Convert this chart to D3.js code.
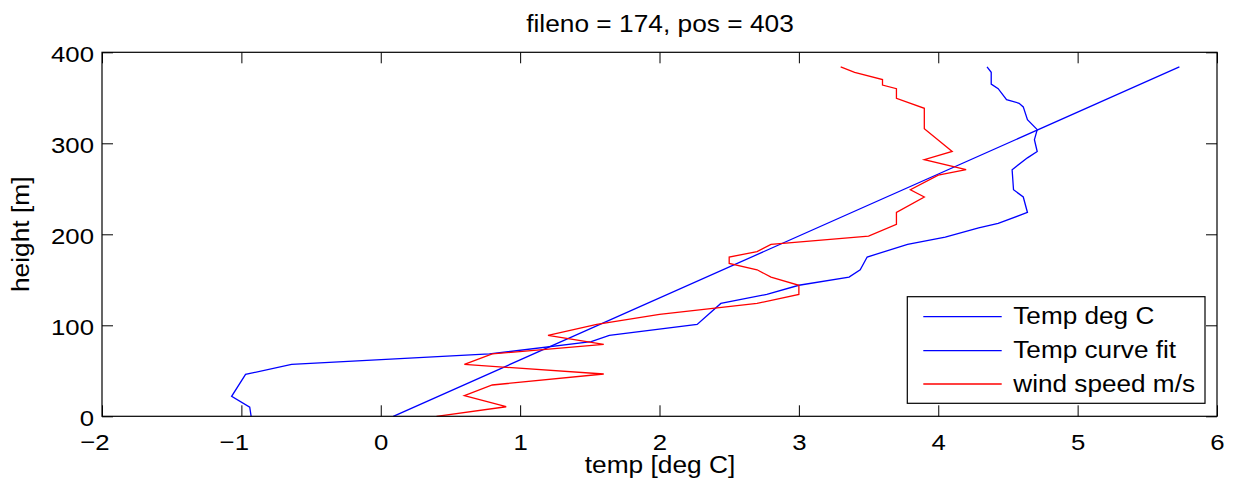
<!DOCTYPE html>
<html>
<head>
<meta charset="utf-8">
<script src="https://cdn.jsdelivr.net/npm/d3@7"></script>
<style>
  body { margin: 0; background: #fff; }
  svg text { font-family: "Liberation Sans", Arial, Helvetica, sans-serif; fill: #000; }
</style>
</head>
<body>
<svg id="chart" width="1234" height="486"></svg>
<script>
// values
const TEMP_HEIGHT = [0, 10, 22, 46, 57, 68.5, 82, 89, 101, 124, 134, 144, 153, 161, 175, 189, 197, 207, 212, 224,
    241, 249, 271, 284, 291, 304, 315, 326, 340, 344, 348, 360, 365, 378, 384];
const TEMP_VALUE = [-0.93, -0.94, -1.07, -0.97, -0.64, 0.78, 1.51, 1.64, 2.27, 2.44, 2.77, 3.00, 3.36, 3.44, 3.49, 3.78, 4.05, 4.29, 4.43, 4.64,
    4.61, 4.54, 4.53, 4.64, 4.71, 4.69, 4.71, 4.64, 4.61, 4.58, 4.49, 4.43, 4.38, 4.38, 4.35];

const FIT_HEIGHT = [0, 384];
const FIT_VALUE = [0.09, 5.73];

const WIND_HEIGHT = [0, 10.5, 22.6, 34.4, 46.5, 57, 68.5, 79, 89, 101, 112, 124, 134, 144, 153, 161, 168, 175, 181, 189,
    198, 211, 224, 241, 249, 265, 271, 282, 291, 316, 338.5, 349.5, 360, 364, 370, 378, 384];
const WIND_VALUE = [0.40, 0.90, 0.60, 0.80, 1.60, 0.60, 0.80, 1.60, 1.20, 1.55, 2.00, 2.70, 3.00, 3.00, 2.80, 2.70, 2.50, 2.50, 2.70, 2.80,
    3.50, 3.70, 3.70, 3.90, 3.80, 4.00, 4.20, 3.90, 4.10, 3.90, 3.90, 3.70, 3.70, 3.60, 3.60, 3.40, 3.30];

const X_TICKS = [-2, -1, 0, 1, 2, 3, 4, 5, 6];
const Y_TICKS = [0, 100, 200, 300, 400];
const LEGEND_LABELS = ['Temp deg C', 'Temp curve fit', 'wind speed m/s'];
const LEGEND_COLORS = ['#0000ff', '#0000ff', '#ff0000'];

const box = {left: 102, right: 1217, top: 52.3, bottom: 416.3};
const SX = 1.12; // reference font is drawn a bit wider than Arial
const TICK = 11;

const svg = d3.select('#chart');

const xScale = d3.scaleLinear().domain([-2, 6]).range([box.left, box.right]);
const yScale = d3.scaleLinear().domain([0, 400]).range([box.bottom, box.top]);

function pairs(hs, vs) {
    return hs.map((h, i) => ({h: h, v: vs[i]}));
}

function renderLine(data, color) {
    const line = d3.line()
        .x(d => xScale(d.v))
        .y(d => yScale(d.h));

    svg.append('path')
        .attr('d', line(data))
        .attr('fill', 'none')
        .attr('stroke', color)
        .attr('stroke-width', 1.3);
}

function styleAxis(g) {
    g.select('.domain').remove();
    g.selectAll('.tick line').attr('stroke', '#000').attr('stroke-width', 1);
}

function renderAxes() {
    const fmt = d => d < 0 ? '\u2212' + Math.abs(d) : String(d);

    svg.append('g')
        .attr('transform', `translate(0,${box.bottom})`)
        .call(d3.axisBottom(xScale).tickValues(X_TICKS).tickSize(-TICK).tickSizeOuter(0).tickPadding(17).tickFormat(fmt))
        .call(styleAxis)
        .call(g => g.selectAll('.tick text')
            .attr('font-size', 23)
            .attr('font-family', null)
            .attr('transform', `scale(${SX},1)`)
            .attr('dx', d => d < 0 ? -6.8 : 0));

    svg.append('g')
        .attr('transform', `translate(${box.left},0)`)
        .call(d3.axisLeft(yScale).tickValues(Y_TICKS).tickSize(-TICK).tickSizeOuter(0).tickPadding(8))
        .call(styleAxis)
        .call(g => g.selectAll('.tick text')
            .attr('font-size', 23)
            .attr('font-family', null)
            .attr('x', -8 / SX)
            .attr('dy', '0.38em')
            .attr('transform', `scale(${SX},1)`));

    svg.append('g')
        .attr('transform', `translate(0,${box.top})`)
        .call(d3.axisTop(xScale).tickValues(X_TICKS).tickSize(-TICK).tickSizeOuter(0).tickFormat(''))
        .call(styleAxis);

    svg.append('g')
        .attr('transform', `translate(${box.right},0)`)
        .call(d3.axisRight(yScale).tickValues(Y_TICKS).tickSize(-TICK).tickSizeOuter(0).tickFormat(''))
        .call(styleAxis);

    svg.append('rect')
        .attr('x', box.left)
        .attr('y', box.top)
        .attr('width', box.right - box.left)
        .attr('height', box.bottom - box.top)
        .attr('fill', 'none')
        .attr('stroke', '#000')
        .attr('stroke-width', 1.2);
}

function renderText(str, tx, ty, size, rot) {
    svg.append('text')
        .attr('transform', `translate(${tx},${ty}) rotate(${rot || 0}) scale(${SX},1)`)
        .attr('text-anchor', 'middle')
        .attr('font-size', size)
        .text(str);
}

function renderLegend() {
    const lx = 907.3, ly = 296.7, rowY = [316.7, 350.7, 384];

    svg.append('rect')
        .attr('x', lx)
        .attr('y', ly)
        .attr('width', 1205 - lx)
        .attr('height', 403.3 - ly)
        .attr('fill', '#fff')
        .attr('stroke', '#000')
        .attr('stroke-width', 1.2);

    LEGEND_LABELS.forEach((label, i) => {
        svg.append('line')
            .attr('x1', 923.3)
            .attr('x2', 1001.7)
            .attr('y1', rowY[i])
            .attr('y2', rowY[i])
            .attr('stroke', LEGEND_COLORS[i])
            .attr('stroke-width', 1.3);

        svg.append('text')
            .attr('transform', `translate(1013.3,${rowY[i] + 7.5}) scale(1.09,1)`)
            .attr('font-size', 24)
            .text(label);
    });
}

renderLine(pairs(TEMP_HEIGHT, TEMP_VALUE), '#0000ff');
renderLine(pairs(FIT_HEIGHT, FIT_VALUE), '#0000ff');
renderLine(pairs(WIND_HEIGHT, WIND_VALUE), '#ff0000');
renderAxes();
renderLegend();

renderText('fileno = 174, pos = 403', 660, 31.7, 23.5);
renderText('temp [deg C]', 660, 473, 23.5);
renderText('height [m]', 29, 234.3, 23.5, -90);
</script>
</body>
</html>
